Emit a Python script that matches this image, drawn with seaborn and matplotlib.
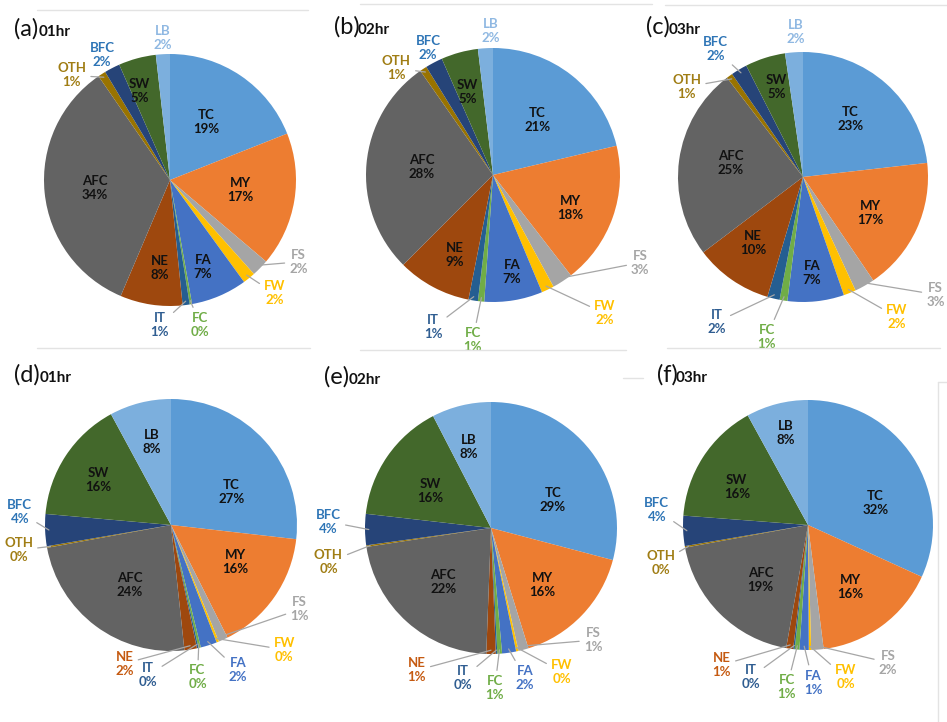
import numpy as np
import matplotlib
matplotlib.use("Agg")
import matplotlib.pyplot as plt
import seaborn as sns
from matplotlib.lines import Line2D

sns.set_theme(style="white")
plt.rcParams["font.family"] = ["Lato", "DejaVu Sans"]

# ---------------- data ----------------
categories = ["TC", "MY", "FS", "FW", "FA", "FC", "IT", "NE", "AFC", "OTH", "BFC", "SW", "LB"]
panel_ids = ["a", "b", "c", "d", "e", "f"]
panel_hours = ["01hr", "02hr", "03hr", "01hr", "02hr", "03hr"]

vals_a = [19.0, 17.2, 2.2, 1.6, 7.2, 0.3, 0.9, 8.0, 34.0, 1.0, 2.0, 4.8, 1.8]
vals_b = [21.3, 18.2, 2.6, 1.6, 7.4, 0.8, 1.2, 9.4, 27.8, 0.9, 2.2, 4.7, 1.9]
vals_c = [23.2, 17.3, 2.6, 1.6, 7.3, 1.0, 1.6, 10.1, 24.9, 0.8, 2.1, 5.2, 2.3]
vals_d = [26.8, 15.8, 1.2, 0.3, 2.1, 0.3, 0.2, 1.6, 23.8, 0.2, 4.1, 15.7, 7.9]
vals_e = [29.1, 16.1, 1.3, 0.3, 1.8, 0.6, 0.2, 1.2, 22.0, 0.2, 4.0, 15.6, 7.6]
vals_f = [31.8, 16.2, 1.6, 0.3, 1.2, 0.6, 0.2, 0.9, 19.3, 0.2, 3.9, 15.8, 8.0]
all_vals = [vals_a, vals_b, vals_c, vals_d, vals_e, vals_f]

# ---------------- style ----------------
slice_colors = ["#5B9BD5", "#ED7D31", "#A5A5A5", "#FFC000", "#4472C4", "#70AD47",
                "#255E91", "#9E480E", "#636363", "#997300", "#264478", "#43682B", "#7CAFDD"]
outside_colors = {"TC": "#5B9BD5", "MY": "#ED7D31", "FS": "#A5A5A5", "FW": "#FFC000",
                  "FA": "#4472C4", "FC": "#70AD47", "IT": "#2F5D91", "NE": "#C55A11",
                  "AFC": "#636363", "OTH": "#A07D14", "BFC": "#2E75B6", "SW": "#43682B",
                  "LB": "#8FB8E2"}

W, H = 947, 722
# pie centre (px), radius (px)
pie_geom = [(170, 180, 126), (493, 175, 127), (803, 177, 125),
            (171, 525, 126), (491, 528, 126), (808, 525, 125)]

# label positions in units of pie radius (layout)
label_pos = {
    "a": {"TC": (0.29, 0.46), "MY": (0.56, -0.08), "FA": (0.26, -0.69), "NE": (-0.08, -0.70),
          "AFC": (-0.60, -0.06), "SW": (-0.24, 0.71), "LB": (-0.06, 1.13), "BFC": (-0.54, 0.99),
          "OTH": (-0.78, 0.83), "FS": (1.02, -0.65), "FW": (0.83, -0.90), "FC": (0.24, -1.15),
          "IT": (-0.08, -1.15)},
    "b": {"TC": (0.35, 0.43), "MY": (0.61, -0.26), "FA": (0.15, -0.76), "NE": (-0.30, -0.63),
          "AFC": (-0.56, 0.06), "SW": (-0.20, 0.65), "LB": (-0.02, 1.13), "BFC": (-0.51, 1.00),
          "OTH": (-0.76, 0.84), "FS": (1.16, -0.69), "FW": (0.88, -1.09), "FC": (-0.16, -1.30),
          "IT": (-0.47, -1.20)},
    "c": {"TC": (0.38, 0.46), "MY": (0.54, -0.29), "FA": (0.07, -0.77), "NE": (-0.40, -0.53),
          "AFC": (-0.58, 0.11), "SW": (-0.21, 0.72), "LB": (-0.06, 1.16), "BFC": (-0.70, 1.02),
          "OTH": (-0.93, 0.72), "FS": (1.06, -0.94), "FW": (0.75, -1.12), "FC": (-0.29, -1.28),
          "IT": (-0.69, -1.16)},
    "d": {"TC": (0.48, 0.26), "MY": (0.51, -0.29), "AFC": (-0.33, -0.48), "SW": (-0.58, 0.36),
          "LB": (-0.15, 0.66), "BFC": (-1.20, 0.10), "OTH": (-1.21, -0.20), "FS": (1.02, -0.67),
          "FW": (0.90, -0.99), "FA": (0.53, -1.15), "FC": (0.21, -1.21), "IT": (-0.18, -1.19),
          "NE": (-0.37, -1.10)},
    "e": {"TC": (0.49, 0.22), "MY": (0.41, -0.45), "AFC": (-0.38, -0.43), "SW": (-0.48, 0.29),
          "LB": (-0.18, 0.64), "BFC": (-1.29, 0.05), "OTH": (-1.29, -0.27), "FS": (0.81, -0.89),
          "FW": (0.56, -1.14), "FA": (0.27, -1.19), "FC": (0.03, -1.27), "IT": (-0.22, -1.19),
          "NE": (-0.59, -1.13)},
    "f": {"TC": (0.54, 0.18), "MY": (0.34, -0.50), "AFC": (-0.38, -0.44), "SW": (-0.57, 0.30),
          "LB": (-0.18, 0.74), "BFC": (-1.21, 0.12), "OTH": (-1.18, -0.30), "FS": (0.64, -1.10),
          "FW": (0.30, -1.22), "FA": (0.04, -1.26), "FC": (-0.17, -1.30), "IT": (-0.46, -1.22),
          "NE": (-0.69, -1.12)},
}
no_leader = {("a", "LB"), ("a", "BFC"), ("b", "LB"), ("b", "BFC"), ("c", "LB")}

# title positions: (paren x, hour x, baseline y) px
title_pos = [(14, 39, 36), (334, 358, 34), (646, 669, 34),
             (14, 40, 382), (324, 349, 384), (657, 676, 382)]

fig = plt.figure(figsize=(W / 100, H / 100), dpi=100)
fig.patch.set_facecolor("white")

# faint chart-area frame lines
frame_lines = [((37, 308), (10, 10)), ((37, 310), (348, 348)),
               ((360, 652), (4, 4)), ((360, 626), (350, 350)),
               ((665, 947), (5, 5)), ((667, 940), (348, 348)),
               ((623, 643), (378, 378)), ((938, 947), (382, 382)), ((938, 938), (382, 722))]
for (x0, x1), (y0, y1) in frame_lines:
    fig.add_artist(Line2D([x0 / W, x1 / W], [1 - y0 / H, 1 - y1 / H],
                          color="#E3E3E3", lw=1.0, transform=fig.transFigure))

FS_LBL = 9.5
S = 175
for pid, hr, vals, (cx, cy, r), (tx0, tx1, ty) in zip(panel_ids, panel_hours, all_vals,
                                                      pie_geom, title_pos):
    ax = fig.add_axes([(cx - S) / W, (H - cy - S) / H, 2 * S / W, 2 * S / H])
    wedges, _ = ax.pie(vals, colors=slice_colors, startangle=90, counterclock=False,
                       wedgeprops=dict(linewidth=0))
    lim = S / r
    ax.set_xlim(-lim, lim)
    ax.set_ylim(-lim, lim)
    ax.set_aspect("equal")
    ax.axis("off")

    lp = label_pos[pid]
    for w, cat, v in zip(wedges, categories, vals):
        x, y = lp[cat]
        txt = f"{cat}\n{v:.0f}%"
        if x * x + y * y < 1.0:
            ax.text(x, y, txt, ha="center", va="center", fontsize=FS_LBL, fontweight="bold",
                    color="#111111", linespacing=1.2)
        else:
            col = outside_colors[cat]
            if (pid, cat) in no_leader:
                ax.text(x, y, txt, ha="center", va="center", fontsize=FS_LBL,
                        fontweight="bold", color=col, linespacing=1.2)
            else:
                th = np.deg2rad((w.theta1 + w.theta2) / 2.0)
                ax.annotate(txt, xy=(0.97 * np.cos(th), 0.97 * np.sin(th)), xytext=(x, y),
                            ha="center", va="center", fontsize=FS_LBL, fontweight="bold",
                            color=col, linespacing=1.2,
                            arrowprops=dict(arrowstyle="-", color="#A6A6A6", lw=0.9,
                                            shrinkA=1, shrinkB=0))

    fig.text(tx0 / W, 1 - ty / H, f"({pid})", fontsize=17, color="#111111",
             ha="left", va="baseline")
    fig.text(tx1 / W, 1 - ty / H, hr, fontsize=11, fontweight="bold", color="#111111",
             ha="left", va="baseline")

fig.savefig("out.png", dpi=100, facecolor="white")
